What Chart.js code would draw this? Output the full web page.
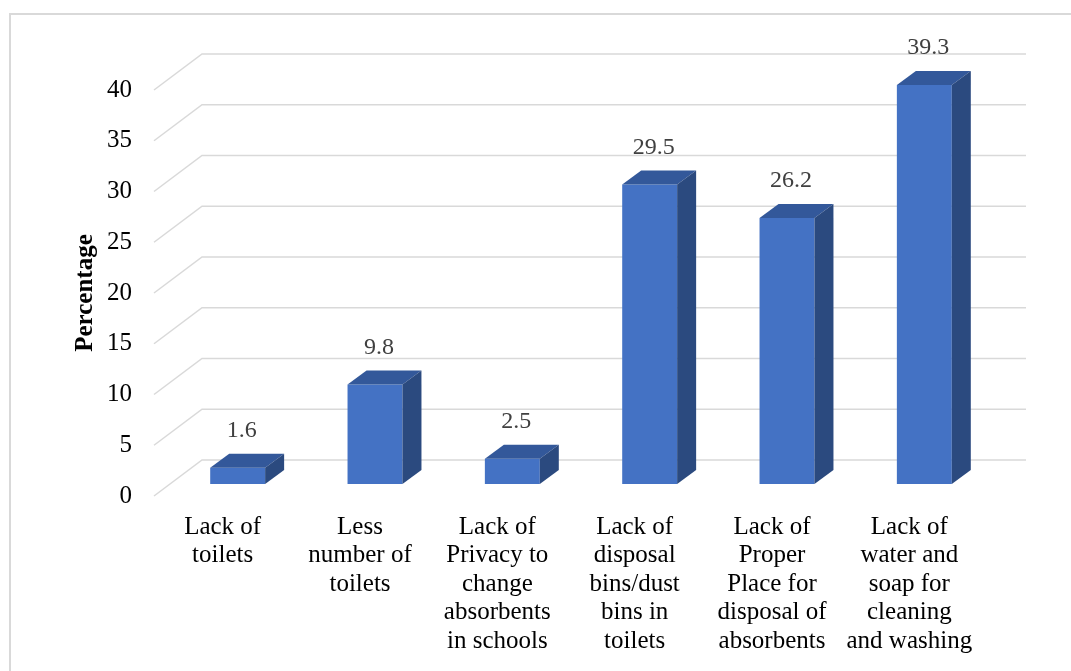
<!DOCTYPE html>
<html>
<head>
<meta charset="utf-8">
<script src="https://cdn.jsdelivr.net/npm/chart.js@4/dist/chart.umd.min.js"></script>
<style>
  html, body { margin: 0; padding: 0; background: #ffffff; }
  #wrap { width: 1071px; height: 671px; position: relative; }
</style>
</head>
<body>
<div id="wrap"><canvas id="c" width="1071" height="671"></canvas></div>
<script>
const categories = [
  ["Lack of", "toilets"],
  ["Less", "number of", "toilets"],
  ["Lack of", "Privacy to", "change", "absorbents", "in schools"],
  ["Lack of", "disposal", "bins/dust", "bins in", "toilets"],
  ["Lack of", "Proper", "Place for", "disposal of", "absorbents"],
  ["Lack of", "water and", "soap for", "cleaning", "and washing"]
];
const percentages = [1.6, 9.8, 2.5, 29.5, 26.2, 39.3];
const valueLabels = ["1.6", "9.8", "2.5", "29.5", "26.2", "39.3"];
const yMin = 0;
const yMax = 40;
const yStep = 5;
const yTitle = "Percentage";

const FONT = "'Liberation Serif', 'Times New Roman', serif";
const WALL_DX = 48, WALL_DY = -36;   // depth of the back wall
const BAR_DX = 15, BAR_DY = -12;     // offset of bar front plane
const DEPTH_DX = 19, DEPTH_DY = -14; // bar depth
const GRID = '#d9d9d9';

const threeD = {
  id: 'threeD',
  beforeDraw(chart) {
    const ctx = chart.ctx;
    ctx.save();
    ctx.fillStyle = '#ffffff';
    ctx.fillRect(0, 0, chart.width, chart.height);
    ctx.strokeStyle = GRID;
    ctx.lineWidth = 2;
    ctx.strokeRect(10, 14, chart.width + 20, chart.height + 20);
    ctx.restore();
  },
  beforeDatasetsDraw(chart) {
    const ctx = chart.ctx, y = chart.scales.y, a = chart.chartArea;
    ctx.save();
    ctx.strokeStyle = GRID;
    ctx.lineWidth = 1.5;
    for (let v = yMin; v <= yMax; v += yStep) {
      const py = y.getPixelForValue(v);
      ctx.beginPath();
      ctx.moveTo(a.left, py);
      ctx.lineTo(a.left + WALL_DX, py + WALL_DY);
      ctx.lineTo(a.right + WALL_DX, py + WALL_DY);
      ctx.stroke();
    }
    ctx.restore();
    ctx.save();
    ctx.translate(BAR_DX, BAR_DY);
  },
  afterDatasetsDraw(chart) {
    const ctx = chart.ctx;
    const meta = chart.getDatasetMeta(0);
    meta.data.forEach((bar) => {
      const x0 = bar.x - bar.width / 2, x1 = bar.x + bar.width / 2;
      const top = bar.y, base = bar.base;
      ctx.fillStyle = '#33589a';
      ctx.beginPath();
      ctx.moveTo(x0, top);
      ctx.lineTo(x1, top);
      ctx.lineTo(x1 + DEPTH_DX, top + DEPTH_DY);
      ctx.lineTo(x0 + DEPTH_DX, top + DEPTH_DY);
      ctx.closePath();
      ctx.fill();
      ctx.fillStyle = '#2b4a7f';
      ctx.beginPath();
      ctx.moveTo(x1, top);
      ctx.lineTo(x1 + DEPTH_DX, top + DEPTH_DY);
      ctx.lineTo(x1 + DEPTH_DX, base + DEPTH_DY);
      ctx.lineTo(x1, base);
      ctx.closePath();
      ctx.fill();
    });
    ctx.restore();
    ctx.save();
    ctx.fillStyle = '#404040';
    ctx.font = "24px " + FONT;
    ctx.textAlign = 'center';
    ctx.textBaseline = 'middle';
    meta.data.forEach((bar, i) => {
      ctx.fillText(valueLabels[i], bar.x + BAR_DX + 4, bar.y + BAR_DY - 37);
    });
    ctx.restore();
  }
};

new Chart(document.getElementById('c'), {
  type: 'bar',
  data: {
    labels: categories,
    datasets: [{
      data: percentages,
      backgroundColor: '#4472c4',
      borderWidth: 0,
      barPercentage: 0.4,
      categoryPercentage: 1.0,
      clip: false
    }]
  },
  options: {
    responsive: false,
    animation: false,
    layout: { padding: { left: 0, right: 93, top: 90, bottom: 0 } },
    plugins: { legend: { display: false }, tooltip: { enabled: false } },
    scales: {
      x: {
        grid: { display: false, drawTicks: false },
        border: { display: false },
        ticks: {
          autoSkip: false, maxRotation: 0, minRotation: 0,
          padding: 17,
          color: '#000000',
          font: { family: FONT, size: 25, lineHeight: '28.5px' }
        },
        afterFit(scale) { scale.height = 175; }
      },
      y: {
        min: yMin, max: yMax,
        grid: { display: false, drawTicks: false },
        border: { display: false },
        ticks: {
          stepSize: yStep,
          padding: 22,
          color: '#000000',
          font: { family: FONT, size: 25 }
        },
        title: {
          display: true,
          text: yTitle,
          color: '#000000',
          font: { family: FONT, size: 25, weight: 'bold' },
          padding: { top: 71, bottom: 0 }
        },
        afterFit(scale) { scale.width = 154; }
      }
    }
  },
  plugins: [threeD]
});
</script>
</body>
</html>
